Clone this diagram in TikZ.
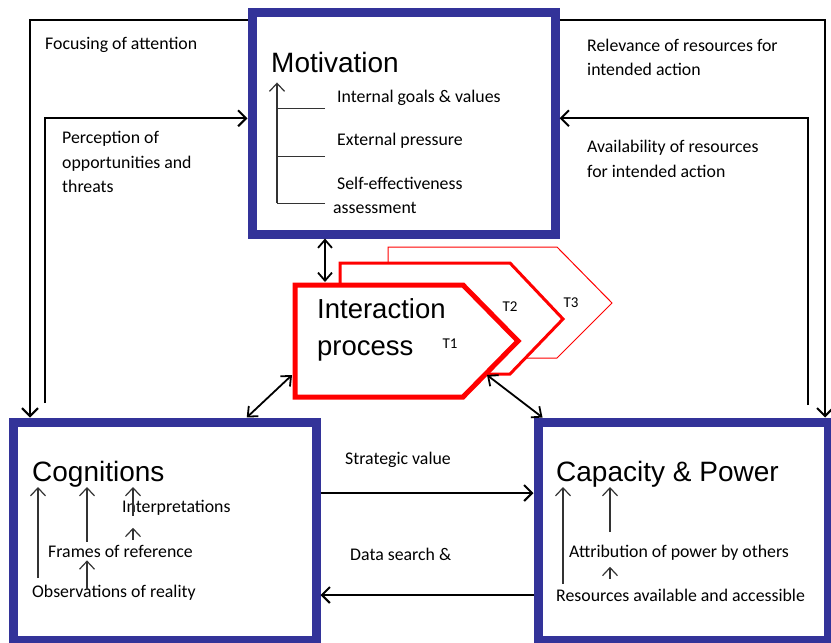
\documentclass[tikz,border=0pt]{standalone}
\usepackage{fontspec}
\setmainfont{Carlito}
\newfontfamily\headfont{Liberation Sans}
\usetikzlibrary{arrows.meta}
\definecolor{boxblue}{RGB}{51,51,153}
\definecolor{procred}{RGB}{255,0,0}

\begin{document}
\begin{tikzpicture}[x=1pt, y=-1pt,
    bigbox/.style={draw=boxblue, line width=9pt, inner sep=0pt},
    head/.style={font=\headfont\fontsize{28}{28}\selectfont, inner sep=0pt, anchor=base west},
    txt/.style={font=\fontsize{17.8}{24.5}\selectfont, inner sep=0pt, anchor=west, align=left},
    tlab/.style={font=\fontsize{15}{15}\selectfont, inner sep=0pt},
    flow/.style={line width=2pt, -{Straight Barb[length=8pt,width=16pt]}},
    dbl/.style={line width=1.8pt, {Straight Barb[length=8pt,width=14pt]}-{Straight Barb[length=8pt,width=14pt]}},
    sub/.style={line width=1.2pt, black!80, -{Straight Barb[length=8pt,width=15pt]}},
    proc/.style={draw=procred, fill=white, line join=miter}]
  \useasboundingbox (0,0) rectangle (831,643);

  % Cajas
  \node[bigbox, minimum width=303pt, minimum height=221.5pt] (mot) at (403.5,123.25) {};
  \node[bigbox, minimum width=302.5pt, minimum height=218pt] (cog) at (164.75,531) {};
  \node[bigbox, minimum width=290pt, minimum height=218pt] (cap) at (683,531) {};

  % Proceso de interaccion T3, T2, T1
  \draw[proc, line width=1pt] (388,247) -- (557,247) -- (612,303) -- (557,358) -- (388,358) -- cycle;
  \draw[proc, line width=3pt] (340,263) -- (510,263) -- (563,319) -- (510,374) -- (340,374) -- cycle;
  \draw[proc, line width=5pt] (295,285) -- (463,285) -- (518,341) -- (463,397) -- (295,397) -- cycle;
  \coordinate (t1nw) at (295,282);
  \coordinate (t1l) at (292,375);
  \coordinate (t1r) at (487,375);
  \node[tlab] (tone) at (450,344) {T1};
  \node[tlab] (ttwo) at (510,307) {T2};
  \node[tlab] (tthree) at (571,303) {T3};
  \node[head, font=\headfont\fontsize{27.5}{27.5}\selectfont] (inter) at (317,318) {Interaction};
  \node[head, font=\headfont\fontsize{27.5}{27.5}\selectfont] (procs) at (317,355) {process};

  % Motivation
  \node[head] (moth) at (271,72) {Motivation};
  \node[txt] (intg) at (337,98) {Internal goals \& values};
  \node[txt] (ext) at (337,141) {External pressure};
  \node[txt] (self) at (337,183) {Self-effectiveness};
  \node[txt] (asmt) at (333,208) {assessment};
  \coordinate (mspine) at (277,203);
  \draw[sub] (mspine) -- ([xshift=6pt,yshift=-10pt]moth.south west);
  \draw[line width=1pt, black!80] ([xshift=-12pt,yshift=-10pt]intg.west) -- ++(-48,0);
  \draw[line width=1pt, black!80] ([xshift=-12pt,yshift=-15pt]ext.west) -- ++(-48,0);
  \draw[line width=1pt, black!80] ([xshift=-12pt,yshift=-20pt]self.west) -- ++(-48,0);

  % Cognitions
  \node[head] (cogt) at (32,481) {Cognitions};
  \node[txt] (interp) at (122,508) {Interpretations};
  \node[txt] (frm) at (48,551) {Frames of reference};
  \node[txt] (obs) at (32,593) {Observations of reality};
  \draw[sub] ([xshift=6pt,yshift=7pt]obs.north west) -- ([xshift=6pt]cogt.south west);
  \draw[sub] ([xshift=39pt,yshift=3pt]frm.north west) -- ([xshift=55pt]cogt.south west);
  \draw[sub] ([xshift=11pt]interp.south west) -- ([xshift=101pt]cogt.south west);
  \draw[sub] ([xshift=85pt,yshift=5pt]frm.north west) -- ([xshift=11pt,yshift=-12pt]interp.south west);
  \draw[sub] ([xshift=55pt,yshift=3pt]obs.west) -- ([xshift=39pt,yshift=-3pt]frm.south west);

  % Capacity & Power
  \node[head] (capt) at (556,481) {Capacity \& Power};
  \node[txt] (attr) at (569,553) {Attribution of power by others};
  \node[txt] (res) at (556,595) {Resources available and accessible};
  \draw[sub] ([xshift=7pt,yshift=5pt]res.north west) -- ([xshift=7pt]capt.south west);
  \draw[sub] ([xshift=41pt,yshift=13pt]attr.north west) -- ([xshift=54pt]capt.south west);
  \draw[sub] ([xshift=54pt,yshift=10pt]res.north west) -- ([xshift=41pt,yshift=-6pt]attr.south west);

  % Flechas exteriores izquierda
  \coordinate (focus) at (30,0);
  \coordinate (percep) at (45,403);
  \draw[flow] ([yshift=-12pt]mot.north west) -| (focus |- cog.north);
  \draw[flow] (percep) |- ([yshift=5pt]mot.west);
  \node[txt] (focl) at (45,45) {Focusing of attention};
  \node[txt] (percl) at (62,162) {Perception of\\opportunities and\\threats};

  % Flechas exteriores derecha
  \coordinate (relev) at (825,0);
  \coordinate (avail) at (808,405);
  \draw[flow] ([yshift=-12pt]mot.north east) -| (relev |- cap.north);
  \draw[flow] (avail) |- ([yshift=5pt]mot.east);
  \node[txt] (relevl) at (587,57.5) {Relevance of resources for\\intended action};
  \node[txt] (availl) at (587,159) {Availability of resources\\for intended action};

  % Flechas centrales
  \coordinate (updown) at (325,0);
  \draw[dbl] (updown |- mot.south) -- (updown |- t1nw);
  \draw[dbl] ([xshift=82pt]cog.north) -- (t1l);
  \draw[dbl] (t1r) -- ([xshift=9pt]cap.north west);
  \draw[flow] ([yshift=38pt]cog.east) -- ([yshift=38pt]cap.west);
  \draw[flow] ([yshift=-64pt]cap.west) -- ([yshift=-64pt]cog.east);
  \node[txt] (strat) at (345,460) {Strategic value};
  \node[txt] (dsearch) at (350,554) {Data search \&};
\end{tikzpicture}
\end{document}
